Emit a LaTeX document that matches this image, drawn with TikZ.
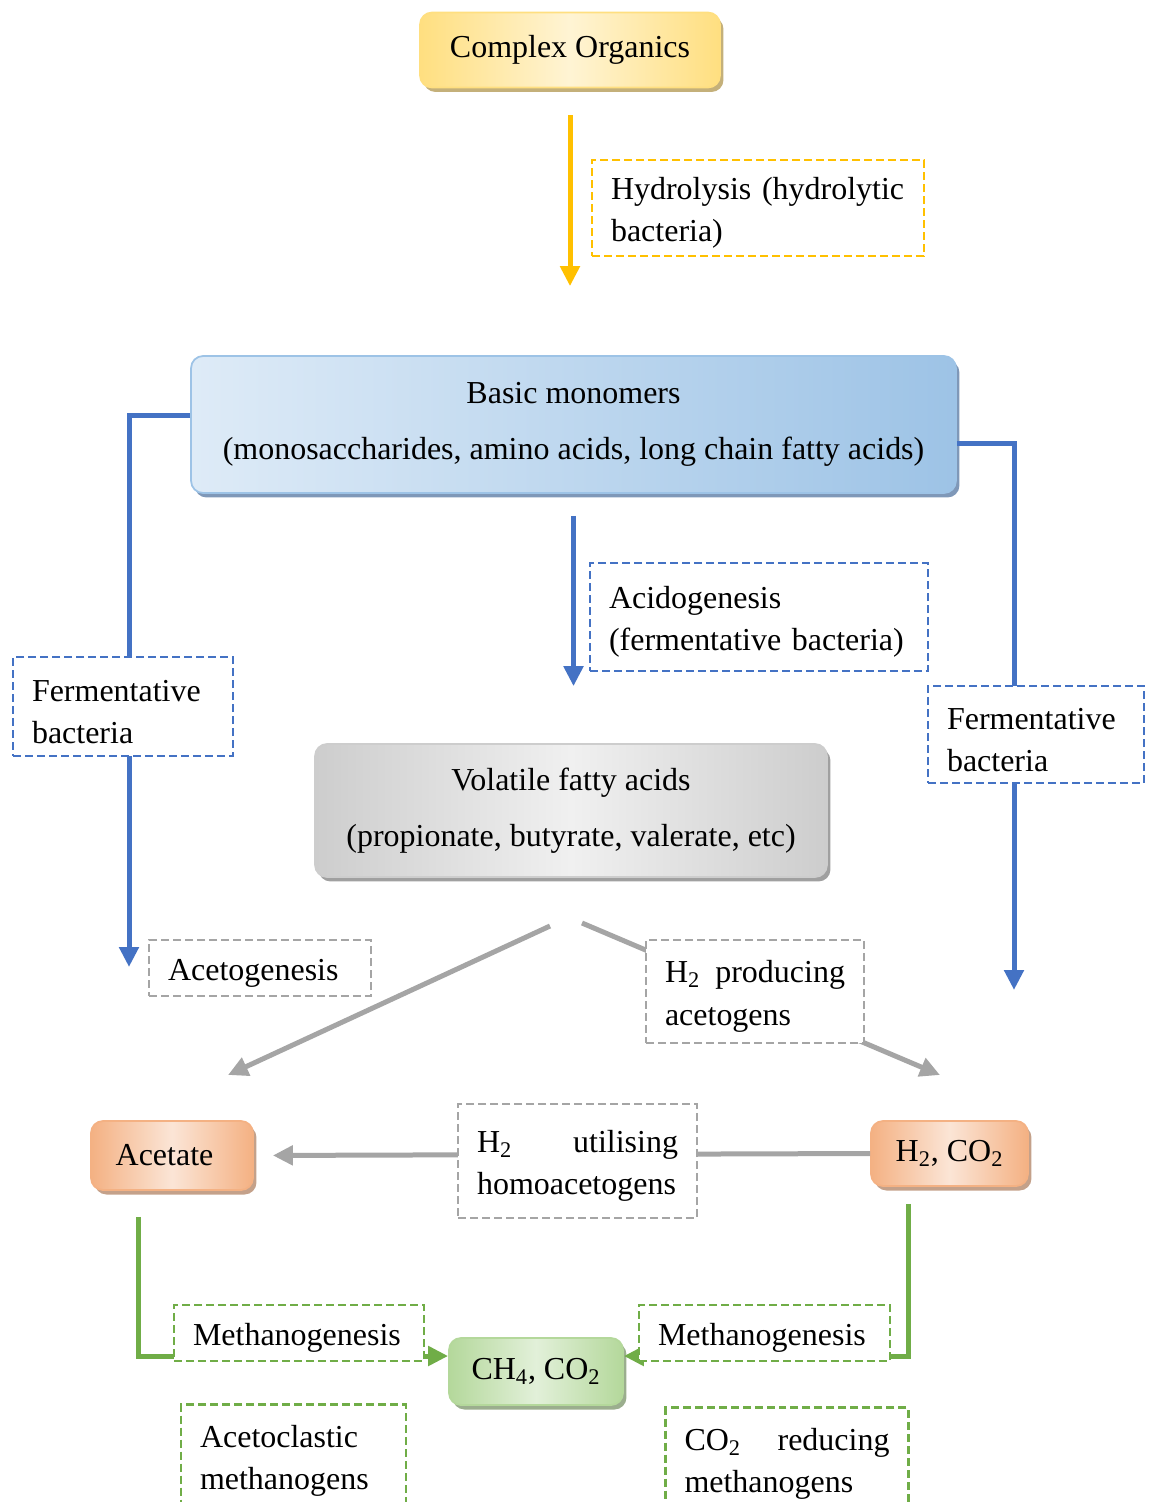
\documentclass[tikz,border=0pt]{standalone}
\usepackage{fontspec}
\setmainfont{Liberation Serif}
\usetikzlibrary{arrows.meta,shadows,calc}
\definecolor{gold}{HTML}{FFC000}
\definecolor{blu}{HTML}{4472C4}
\definecolor{gry}{HTML}{A5A5A5}
\definecolor{grn}{HTML}{70AD47}
\definecolor{yelin}{HTML}{FFF4D4}
\definecolor{yelout}{HTML}{FFDF80}
\definecolor{yelsh}{HTML}{C4B07A}
\definecolor{bluin}{HTML}{DEEBF7}
\definecolor{bluout}{HTML}{9DC3E6}
\definecolor{blush}{HTML}{7F98B8}
\definecolor{gryin}{HTML}{F0F0F0}
\definecolor{gryout}{HTML}{CDCDCD}
\definecolor{grysh}{HTML}{A0A0A0}
\definecolor{orin}{HTML}{FBE5D6}
\definecolor{orout}{HTML}{F4B183}
\definecolor{orsh}{HTML}{C4A18A}
\definecolor{grin}{HTML}{E2F0D9}
\definecolor{grout}{HTML}{B4D89B}
\definecolor{grsh}{HTML}{9BAE8E}

\begin{document}
\begin{tikzpicture}[x=0.02cm, y=-0.02cm, font=\fontsize{18.2}{24}\selectfont,
  box/.style={draw, line width=1pt, rounded corners=0.24cm, align=center, inner sep=0pt},
  yel/.style={box, draw=yelout, left color=yelout, right color=yelout, middle color=yelin,
    drop shadow={shadow xshift=0.07cm, shadow yshift=-0.09cm, fill=yelsh, opacity=1}},
  blubox/.style={box, draw=bluout, left color=bluin, right color=bluout,
    drop shadow={shadow xshift=0.07cm, shadow yshift=-0.09cm, fill=blush, opacity=1}},
  grybox/.style={box, draw=gryout, left color=gryout, right color=gryout, middle color=gryin,
    drop shadow={shadow xshift=0.07cm, shadow yshift=-0.09cm, fill=grysh, opacity=1}},
  orbox/.style={box, draw=orout, left color=orout, right color=orout, middle color=orin,
    drop shadow={shadow xshift=0.07cm, shadow yshift=-0.09cm, fill=orsh, opacity=1}},
  grbox/.style={box, draw=grout, left color=grout, right color=grout, middle color=grin,
    drop shadow={shadow xshift=0.07cm, shadow yshift=-0.09cm, fill=grsh, opacity=1}},
  lbl/.style={draw, dash pattern=on 0.16cm off 0.08cm, line width=1.2pt, fill=white,
    align=left, inner xsep=0.38cm, inner ysep=0pt,
    execute at begin node={\rule{0pt}{0.64cm}}},
  flow/.style={line width=0.1cm, -{Triangle[length=0.4cm, width=0.38cm]}}]
\useasboundingbox (0,0) rectangle (1154,1502);
\clip (0,0) rectangle (1154,1502);
% main boxes
\node[yel, minimum width=6cm, minimum height=1.5cm] (co) at (570,50) {Complex Organics};
\node[blubox, minimum width=15.3cm, minimum height=2.74cm] (bm) at (573.5,424.5)
  {Basic monomers\\[0.27cm](monosaccharides, amino acids, long chain fatty acids)};
\node[grybox, minimum width=10.24cm, minimum height=2.66cm] (vfa) at (571,810.5)
  {Volatile fatty acids\\[0.27cm](propionate, butyrate, valerate, etc)};
\node[orbox, minimum width=3.24cm, minimum height=1.38cm] (ac) at (172,1155.5)
  {Acetate\hspace{0.3cm}};
\node[orbox, minimum width=3.14cm, minimum height=1.3cm] (hc) at (949.5,1153.5)
  {H\textsubscript{2}, CO\textsubscript{2}};
\node[grbox, minimum width=3.48cm, minimum height=1.34cm] (ch) at (536,1371.5)
  {CH\textsubscript{4}, CO\textsubscript{2}};
% free ends
\coordinate (lend) at (129,967);
\coordinate (rend) at (1014,990);
\coordinate (gls) at (550,926); \coordinate (gle) at (228,1075);
\coordinate (grs) at (582,923); \coordinate (gre) at (940,1075);
% connectors
\draw[flow, draw=gold, shorten <=0.54cm, shorten >=1.38cm] (co.south) -- (co.south |- bm.north);
\draw[flow, draw=blu, shorten <=0.44cm, shorten >=1.14cm] (bm.south) -- (bm.south |- vfa.north);
\draw[flow, draw=blu] (bm.west |- 0,415) -| (lend);
\draw[flow, draw=blu] (bm.east |- 0,443) -| (rend);
\draw[flow, draw=gry] (gls) -- (gle);
\draw[flow, draw=gry] (grs) -- (gre);
\draw[flow, draw=gry, shorten >=0.38cm] (hc.west) -- (ac.east);
\draw[flow, draw=grn, shorten <=0.52cm] (ac.south -| 138,0) |- ($(ch.west)+(0,-15.5)$);
\draw[flow, draw=grn, shorten <=0.34cm] (hc.south -| 908,0) |- ($(ch.east)+(0,-15.5)$);
% dashed labels
\node[lbl, draw=gold, text width=5.88cm, minimum height=1.92cm] (hyd) at (758,208)
  {Hydrolysis (hydrolytic\\bacteria)};
\node[lbl, draw=blu, text width=6.0cm, minimum height=2.16cm] (acid) at (759,617)
  {Acidogenesis\\(fermentative bacteria)};
\node[lbl, draw=blu, text width=3.64cm, minimum height=1.98cm] (fl) at (123,706.5)
  {Fermentative\\bacteria};
\node[lbl, draw=blu, text width=3.56cm, minimum height=1.94cm] (fr) at (1036,734.5)
  {Fermentative\\bacteria};
\node[lbl, draw=gry, text width=3.68cm, minimum height=1.12cm] (acg) at (260,968) {Acetogenesis};
\node[lbl, draw=gry, text width=3.6cm, minimum height=2.06cm] (h2p) at (755,991.5)
  {H\textsubscript{2}\hfill producing\\acetogens};
\node[lbl, draw=gry, text width=4.02cm, minimum height=2.28cm] (h2u) at (577.5,1161)
  {H\textsubscript{2}\hfill utilising\\homoacetogens};
\node[lbl, draw=grn, text width=4.24cm, minimum height=1.12cm] (ml) at (299,1333) {Methanogenesis};
\node[lbl, draw=grn, text width=4.26cm, minimum height=1.12cm] (mr) at (764.5,1333) {Methanogenesis};
\node[lbl, draw=grn, text width=3.74cm, minimum height=2.06cm] (acl) at (293.5,1456)
  {Acetoclastic\\methanogens};
\node[lbl, draw=grn, text width=4.1cm, minimum height=2.06cm] (co2r) at (787,1459)
  {CO\textsubscript{2}\hfill reducing\\methanogens};
\end{tikzpicture}
\end{document}
